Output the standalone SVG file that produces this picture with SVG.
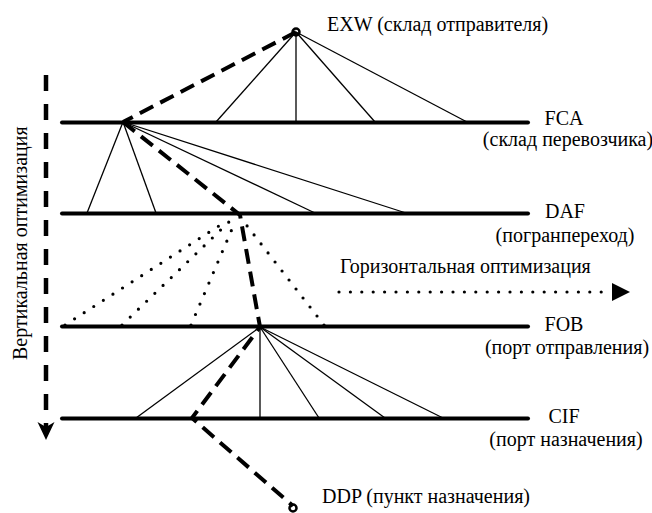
<svg xmlns="http://www.w3.org/2000/svg" width="652" height="513" viewBox="0 0 652 513">
<style>
text{font-family:"Liberation Serif","Times New Roman",serif;font-size:20px;fill:#000}
.lvl{stroke:#000;stroke-width:4;stroke-linecap:round;fill:none}
.thin{stroke:#000;stroke-width:1.3;fill:none}
.route{stroke:#000;stroke-width:4;stroke-dasharray:15 8;fill:none;stroke-linejoin:miter}
.dots{stroke:#000;stroke-width:3.2;stroke-linecap:round;stroke-dasharray:0 11.4;fill:none}
.vdash{stroke:#000;stroke-width:4.5;stroke-dasharray:16 13;fill:none}
.mid{text-anchor:middle}
</style>
<rect width="652" height="513" fill="#fff"/>
<g id="level-FCA">
<line class="lvl" x1="62" y1="122.5" x2="528" y2="122.5"/>
<text class="mid" x="564" y="125">FCA</text>
<text class="mid" x="568" y="146">(склад перевозчика)</text>
</g>
<g id="level-DAF">
<line class="lvl" x1="62" y1="213.5" x2="528" y2="213.5"/>
<text class="mid" x="565" y="218">DAF</text>
<text class="mid" x="565" y="242">(погранпереход)</text>
</g>
<g id="level-FOB">
<line class="lvl" x1="62" y1="326.5" x2="528" y2="326.5"/>
<text class="mid" x="564" y="331">FOB</text>
<text class="mid" x="567" y="354">(порт отправления)</text>
</g>
<g id="level-CIF">
<line class="lvl" x1="62" y1="418.5" x2="528" y2="418.5"/>
<text class="mid" x="564" y="423">CIF</text>
<text class="mid" x="566" y="446">(порт назначения)</text>
</g>
<g id="node-EXW">
<circle cx="296" cy="32" r="3.5" fill="#fff" stroke="#000" stroke-width="2.5"/>
<text x="327" y="31">EXW (склад отправителя)</text>
</g>
<g id="node-DDP">
<circle cx="293" cy="508" r="3.5" fill="#fff" stroke="#000" stroke-width="2.5"/>
<text x="322" y="503">DDP (пункт назначения)</text>
</g>
<g id="axis-vertical">
<line class="vdash" x1="46" y1="75" x2="46" y2="428"/>
<path d="M37.5,422 L46,440 L54.5,422 L46,427 Z" fill="#000"/>
<text transform="translate(27,360) rotate(-90)">Вертикальная оптимизация</text>
</g>
<g id="axis-horizontal">
<line class="dots" x1="339" y1="292" x2="608" y2="292"/>
<path d="M612,283 L630,292 L612,301 Z" fill="#000"/>
<text x="340" y="273">Горизонтальная оптимизация</text>
</g>
<g id="connectors">
<g class="thin">
<line x1="296" y1="32" x2="216" y2="122"/>
<line x1="296" y1="32" x2="296" y2="122"/>
<line x1="296" y1="32" x2="375" y2="122"/>
<line x1="296" y1="32" x2="467" y2="122"/>
<line x1="123" y1="122" x2="87" y2="213"/>
<line x1="123" y1="122" x2="156" y2="213"/>
<line x1="123" y1="122" x2="315" y2="213"/>
<line x1="123" y1="122" x2="406" y2="213"/>
<line x1="260" y1="327" x2="136" y2="418"/>
<line x1="260" y1="327" x2="260" y2="418"/>
<line x1="260" y1="327" x2="319" y2="418"/>
<line x1="260" y1="327" x2="385" y2="418"/>
<line x1="260" y1="327" x2="443" y2="418"/>
</g>
<g class="dots">
<line x1="65" y1="325" x2="225" y2="222"/>
<line x1="122" y1="325" x2="231" y2="220"/>
<line x1="191" y1="325" x2="235" y2="222"/>
<line x1="324" y1="325" x2="244" y2="222"/>
</g>
<path class="route" d="M296,32 L123,122"/>
<path class="route" d="M123,122 L240,215 L260,327 L192,418 L293,506"/>
</g>
</svg>
